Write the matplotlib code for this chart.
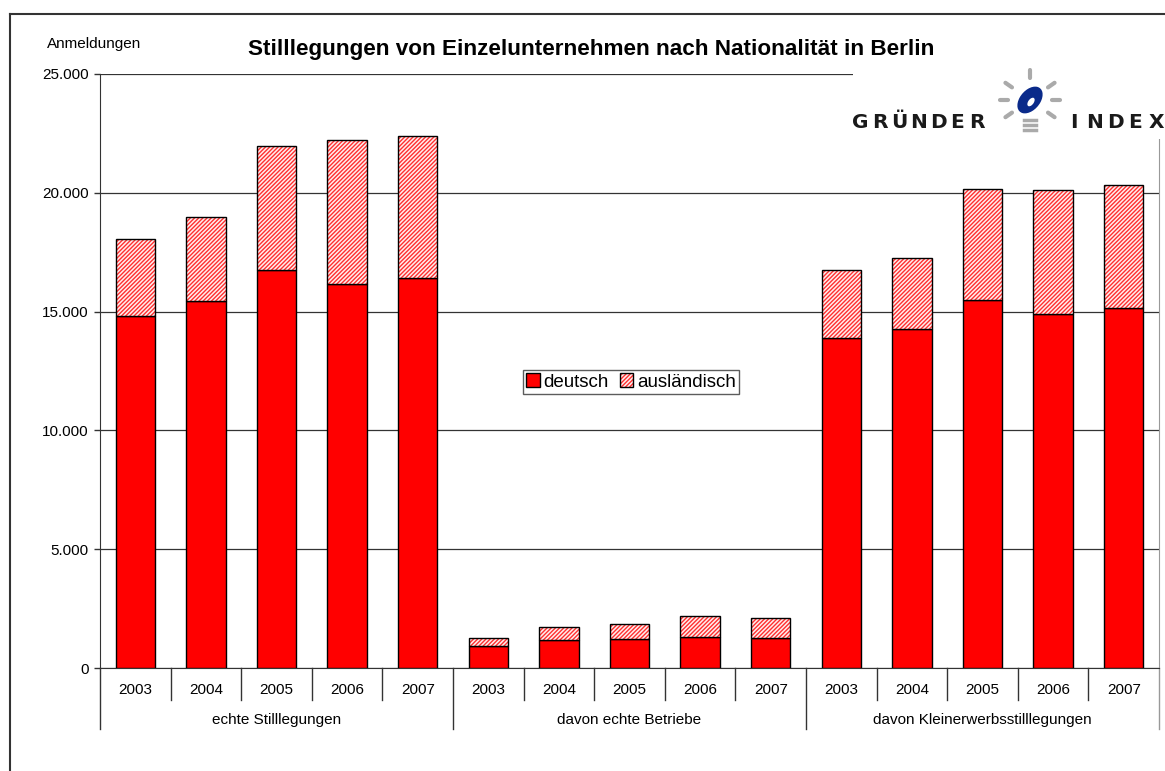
import matplotlib
matplotlib.use("Agg")
import matplotlib.pyplot as plt
import numpy as np
from matplotlib.patches import Patch, Rectangle, Ellipse
from matplotlib.legend_handler import HandlerTuple
from matplotlib.lines import Line2D

plt.rcParams["font.family"] = ["Liberation Sans", "DejaVu Sans"]
plt.rcParams["hatch.linewidth"] = 1.0

years = ["2003", "2004", "2005", "2006", "2007"]
groups = ["echte Stilllegungen", "davon echte Betriebe", "davon Kleinerwerbsstilllegungen"]

deutsch = [14800, 15450, 16750, 16170, 16420,
           910, 1170, 1230, 1290, 1250,
           13880, 14280, 15490, 14900, 15150]
gesamt = [18050, 18980, 21980, 22230, 22400,
          1270, 1720, 1870, 2170, 2120,
          16770, 17240, 20150, 20110, 20310]
auslaendisch = [g - d for g, d in zip(gesamt, deutsch)]

W, H = 1165, 771
fig = plt.figure(figsize=(W / 100, H / 100), dpi=100)
ax = fig.add_axes([100 / W, (H - 668) / H, (1159 - 100) / W, (668 - 74) / H])

HATCH = "////////"
x = np.arange(len(deutsch))
bw = 0.56
ax.bar(x, deutsch, bw, color="#ff0000", edgecolor="black", linewidth=1.0, zorder=3)
ax.bar(x, auslaendisch, bw, bottom=deutsch, color="#ffeeee", edgecolor="#ff3030",
       hatch=HATCH, linewidth=0, zorder=3)
ax.bar(x, auslaendisch, bw, bottom=deutsch, fill=False, edgecolor="black",
       linewidth=1.0, zorder=4)

ax.set_xlim(-0.5, len(deutsch) - 0.5)
ax.set_ylim(0, 25000)
ax.set_yticks(np.arange(0, 25001, 5000))
ax.set_yticklabels([f"{v:,}".replace(",", ".") for v in range(0, 25001, 5000)], fontsize=11)
ax.tick_params(axis="y", length=4, width=1, pad=4, color="#333333")
ax.set_xticks([])
ax.yaxis.grid(True, color="#333333", linewidth=0.9, zorder=0)
ax.set_axisbelow(True)
ax.spines["top"].set_visible(False)
ax.spines["right"].set_color("#999999")
ax.spines["left"].set_color("#333333")
ax.spines["bottom"].set_color("#333333")

# category separators and labels
tr = ax.get_xaxis_transform()
n = len(deutsch)
for k in range(n + 1):
    pos = k - 0.5
    long = (k % 5 == 0)
    y1 = -(729 - 668) / 594 if long else -(700 - 668) / 594
    col = "#999999" if k == n else "#333333"
    ax.plot([pos, pos], [0, y1], transform=tr, color=col, lw=1, clip_on=False)
for k in range(n):
    ax.text(k, -(690 - 668) / 594, years[k % 5], transform=tr, ha="center",
            va="center", fontsize=11)
for g, name in enumerate(groups):
    ax.text(g * 5 + 2, -(720 - 668) / 594, name, transform=tr, ha="center",
            va="center", fontsize=11)

# legend
h_de = Patch(facecolor="#ff0000", edgecolor="black", linewidth=1.0)
h_au = (Patch(facecolor="#ffeeee", edgecolor="#ff3030", hatch=HATCH, linewidth=0),
        Patch(fill=False, edgecolor="black", linewidth=1.0))
leg = ax.legend([h_de, h_au], ["deutsch", "ausländisch"],
                handler_map={tuple: HandlerTuple(ndivide=1, pad=0)},
                loc="center", bbox_to_anchor=((631 - 100) / 1059, (668 - 382) / 594),
                ncol=2, fontsize=13.5, frameon=True, fancybox=False,
                edgecolor="#333333", handlelength=0.7, handleheight=0.7,
                handletextpad=0.2, columnspacing=0.6, borderpad=0.2,
                borderaxespad=0)
leg.get_frame().set_linewidth(1.0)

# title and axis label
fig.text(591 / W, 1 - 50 / H, "Stilllegungen von Einzelunternehmen nach Nationalität in Berlin",
         ha="center", va="center", fontsize=16.2, fontweight="bold")
fig.text(94 / W, 1 - 44 / H, "Anmeldungen", ha="center", va="center", fontsize=11)

# outer frame
fig.add_artist(Line2D([10 / W, 10 / W], [0, 1 - 14 / H], color="#333333", lw=1.5))
fig.add_artist(Line2D([10 / W, 1], [1 - 14 / H, 1 - 14 / H], color="#333333", lw=1.5))

# logo
fig.add_artist(Rectangle((853 / W, 1 - 139 / H), (W - 853) / W, 80 / H,
                         facecolor="white", edgecolor="none", zorder=5))
for i, ch in enumerate("GRÜNDER"):
    fig.text((860 + i * 19.5) / W, 1 - 123 / H, ch, ha="center", va="center",
             fontsize=14.5, fontweight="bold", color="#1a1a1a",
             family="DejaVu Sans", zorder=6)
for i, ch in enumerate("INDEX"):
    fig.text((1074 + i * 20.5) / W, 1 - 123 / H, ch, ha="center", va="center",
             fontsize=14.5, fontweight="bold", color="#1a1a1a",
             family="DejaVu Sans", zorder=6)
cx, cy = 1030, 100
for ang in [90, 35, 145, 0, 180, -35, 215]:
    a = np.deg2rad(ang)
    r0, r1 = 22, 30
    fig.add_artist(Line2D([(cx + r0 * np.cos(a)) / W, (cx + r1 * np.cos(a)) / W],
                          [1 - (cy - r0 * np.sin(a)) / H, 1 - (cy - r1 * np.sin(a)) / H],
                          color="#aaaaaa", lw=3, solid_capstyle="round", zorder=6))
fig.add_artist(Ellipse((cx / W, 1 - cy / H), 22 / W, 28 / H, angle=-20,
                       facecolor="#0a2a8a", edgecolor="none", zorder=6))
fig.add_artist(Ellipse(((cx + 1) / W, 1 - (cy + 2) / H), 6 / W, 9 / H, angle=-20,
                       facecolor="white", edgecolor="none", zorder=7))
for j in range(3):
    fig.add_artist(Line2D([(cx - 6) / W, (cx + 6) / W],
                          [1 - (cy + 20 + j * 5) / H, 1 - (cy + 20 + j * 5) / H],
                          color="#aaaaaa", lw=2.5, zorder=6))

fig.savefig("out.png", dpi=100)
